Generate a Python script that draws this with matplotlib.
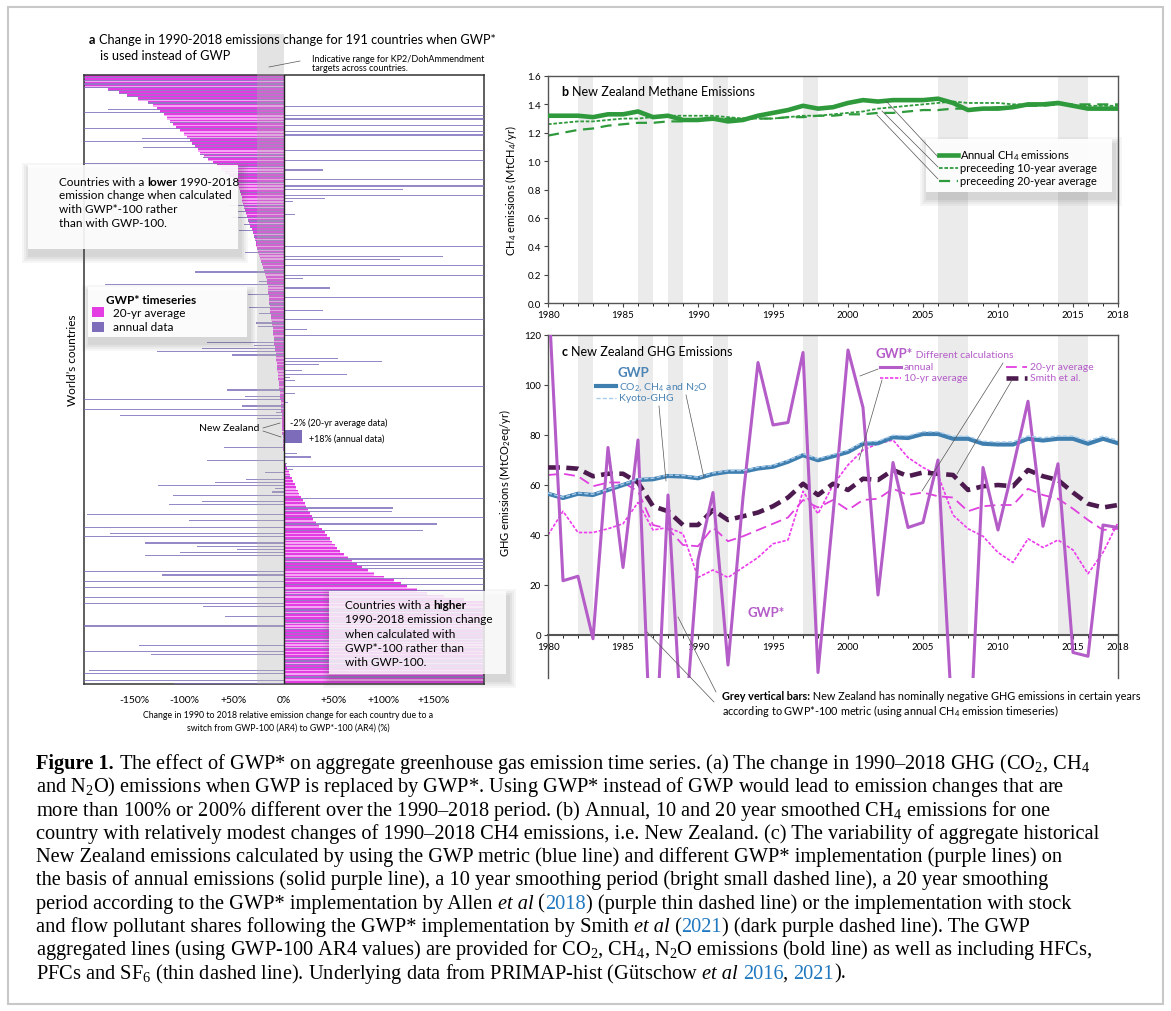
import numpy as np
import matplotlib
matplotlib.use("Agg")
import matplotlib.pyplot as plt
from matplotlib import transforms as mtransforms
from matplotlib.patches import Rectangle
from matplotlib.lines import Line2D

# ---- data ----
years = list(range(1980, 2019))

ch4_annual = [1.32, 1.32, 1.32, 1.31, 1.33, 1.33, 1.35, 1.31, 1.32, 1.29,
              1.29, 1.30, 1.28, 1.29, 1.32, 1.34, 1.36, 1.39, 1.37, 1.38,
              1.41, 1.43, 1.42, 1.43, 1.43, 1.43, 1.44, 1.41, 1.36, 1.37,
              1.37, 1.38, 1.40, 1.40, 1.41, 1.39, 1.37, 1.37, 1.37]
ch4_10yr = [1.26, 1.27, 1.28, 1.28, 1.29, 1.30, 1.30, 1.31, 1.32, 1.32,
            1.32, 1.32, 1.31, 1.30, 1.30, 1.30, 1.31, 1.32, 1.32, 1.33,
            1.34, 1.35, 1.37, 1.38, 1.39, 1.40, 1.41, 1.42, 1.41, 1.41,
            1.41, 1.40, 1.40, 1.40, 1.40, 1.39, 1.39, 1.39, 1.39]
ch4_20yr = [1.18, 1.20, 1.22, 1.23, 1.25, 1.26, 1.27, 1.27, 1.28, 1.28,
            1.29, 1.29, 1.30, 1.30, 1.30, 1.30, 1.31, 1.31, 1.32, 1.32,
            1.33, 1.33, 1.34, 1.34, 1.35, 1.36, 1.36, 1.37, 1.37, 1.37,
            1.38, 1.38, 1.39, 1.39, 1.40, 1.40, 1.40, 1.40, 1.40]

gwp_main = [56.5, 54.8, 56.5, 56.0, 58.0, 60.0, 62.0, 62.3, 63.6, 63.4,
            62.7, 64.4, 65.3, 65.3, 66.6, 67.3, 69.3, 71.9, 69.9, 71.5,
            73.2, 76.5, 76.7, 79.1, 78.8, 80.4, 80.4, 78.5, 78.5, 76.5,
            76.2, 76.2, 78.5, 77.8, 78.5, 78.5, 76.5, 78.5, 76.7]
gwp_kyoto = [56.8, 55.1, 56.8, 56.3, 58.3, 60.3, 62.4, 62.7, 64.0, 63.8,
             63.1, 64.8, 65.7, 65.8, 67.1, 67.8, 69.9, 72.5, 70.5, 72.2,
             73.9, 77.2, 77.5, 79.9, 79.7, 81.3, 81.3, 79.5, 79.5, 77.5,
             77.2, 77.3, 79.6, 78.9, 79.6, 79.6, 77.6, 79.6, 77.9]
gwpstar_annual = [140, 21.7, 23.5, -1.5, 75, 27, 78, -70, 56, -48,
                  30, 57, -12, 55, 109, 84, 85, 113, -15, 48,
                  114, 91, 16, 69, 43, 45, 70, -40, -60, 67,
                  42, 67, 93.5, 43.5, 68.5, -7, -8.5, 44, 43]
gwpstar_10yr = [40, 49.5, 41, 41, 42.5, 44.5, 53, 42, 43, 40.5,
                23, 26, 23, 27, 31, 36.5, 38, 57.5, 48.5, 60,
                68, 74, 76.5, 78, 71, 67, 64, 48, 42.5, 39.5,
                33, 29, 38.5, 35, 38, 34, 24.5, 33, 45]
gwpstar_20yr = [64, 64.5, 63.5, 59.5, 61, 61, 57.5, 44, 42.5, 36,
                35.5, 43, 37.5, 39.5, 42, 44.5, 47, 54, 51, 54,
                50, 54, 54.5, 58.5, 56, 57, 55.5, 55, 49.5, 51.5,
                52, 52, 58.5, 56, 54.5, 50.5, 46, 42, 42.5]
gwpstar_smith = [67, 67, 66.5, 63.5, 64.5, 64.5, 61, 51.5, 49.5, 44,
                 44, 50, 46, 47.5, 49, 51.5, 55, 60.5, 56, 60.5,
                 58, 62.5, 62, 66, 63.5, 65, 64.5, 64, 58, 59.5,
                 60, 59.5, 66, 63.5, 62, 57, 52.5, 51, 52]
negative_years = [(1982, 1983), (1986, 1987), (1988, 1989), (1991, 1992),
                  (1997, 1998), (2006, 2008), (2014, 2016)]

# 191 countries, sorted by the 20-yr average change (%)
country_avg20 = [
    -200, -200, -200, -200, -176, -165, -157, -146, -136, -131,
    -127, -124, -120, -117, -114, -111, -108, -104, -100, -97,
    -94, -92, -89, -86, -84, -80, -76, -71, -67, -63,
    -59, -55, -51, -49, -47, -45, -44, -43, -42, -42,
    -41, -40, -39, -38, -37, -36, -35, -34, -32, -31,
    -30, -29, -28, -28, -27, -26, -25, -24, -23, -22,
    -21, -20, -19, -18, -17, -17, -16, -16, -16, -15,
    -15, -15, -14, -14, -14, -13, -13, -12, -12, -11,
    -11, -11, -10, -10, -10, -9, -9, -8, -8, -8,
    -7, -7, -7, -6, -6, -6, -5, -5, -5, -4,
    -4, -4, -3, -3, -3, -3, -2, -2, -2, -2,
    -2, -2, -2, -1, -1, -1, -1, -1, -0.5, -0.5,
    0.5, 1, 2, 3, 5, 6, 8, 9, 11, 12,
    14, 15, 17, 19, 21, 22, 24, 26, 28, 29,
    32, 35, 38, 41, 43, 46, 48, 51, 53, 56,
    60, 64, 68, 73, 78, 84, 90, 100, 110, 117,
    123, 133, 143, 160, 180, 200, 200, 200, 200, 200,
    200, 200, 200, 200, 200, 200, 200, 200, 200, 200,
    200, 200, 200, 200, 200, 200, 200, 200, 200, 200,
    200]
country_annual = [
    -200, -200, -200, -200, -176, -165, -157, -146, -136, 200,
    -176, -200, 200, 200, -114, 200, -200, 200, 200, -142,
    -200, -92, -141, 200, -84, -81, 200, -200, -64, 39,
    -59, -55, 200, -49, 200, 119, -44, 200, 41, 9,
    -55, -40, -47, 11, -52, -36, -40, -34, -45, -31,
    -30, -29, -28, 200, -27, -39, 159, 116, -23, 200,
    -21, -89, 200, 19, -25, -179, 46, -16, -36, 200,
    -15, -15, -35, 39, -25, -13, 200, -28, -26, 23,
    -11, 200, -10, -77, -30, -82, -127, -52, 54, 98,
    35, -7, 18, 63, 6, 11, -5, 200, -57, 11,
    -39, -200, 4, -42, -200, -8, -164, -27, -2, -2,
    -2, 18, -2, -1, -1, -1, -60, -1, 13, 27,
    -77, 3, 200, 9, -19, 6, -38, -69, -126, -9,
    -12, -111, 200, -82, -115, 109, 108, -197, 200, -95,
    153, -200, 139, -174, -200, 46, -139, -87, -47, -104,
    -139, 200, 200, 200, 200, -200, -122, 200, -200, 200,
    -200, 200, 143, -200, 180, -200, -81, 200, 200, -59,
    200, 200, -200, 200, 200, 200, 200, 200, -145, 200,
    -200, -133, 200, 200, 200, 200, -195, -200, 200, -200,
    -110]
nz_index = 111
a_ticks = [-150, -100, -50, 0, 50, 100, 150]
a_ticklabels = ['-150%', '-100%', '+50%', '0%', '+50%', '+100%', '+150%']

# ---- figure setup ----
W, H = 1171, 1012
plt.rcParams['font.family'] = ['Lato', 'DejaVu Sans']
plt.rcParams['mathtext.fontset'] = 'custom'
plt.rcParams['mathtext.rm'] = 'Liberation Serif'
plt.rcParams['mathtext.it'] = 'Liberation Serif:italic'
plt.rcParams['mathtext.sf'] = 'Lato'

fig = plt.figure(figsize=(W / 100, H / 100), dpi=100)
T = mtransforms.Affine2D().scale(1 / W, -1 / H).translate(0, 1) + fig.transFigure
renderer = fig.canvas.get_renderer()

MAG = '#E33CE3'
PINK = '#F4A6F4'
PUR = '#7C6CB9'
GRN = '#2E9A3C'
BLU = '#3F7FB0'
ORC = '#B45CC8'
DRK = '#4D1A4F'
GRY = '#555555'


def box(x0, y0, x1, y1):
    return [x0 / W, 1 - y1 / H, (x1 - x0) / W, (y1 - y0) / H]


def line(x0, y0, x1, y1, **kw):
    kw.setdefault('color', GRY)
    kw.setdefault('lw', 0.5)
    fig.add_artist(Line2D([x0, x1], [y0, y1], transform=T, **kw))


def txt(x, y, s, **kw):
    kw.setdefault('va', 'center')
    kw.setdefault('fontsize', 8.5)
    return fig.text(x, y, s, transform=T, **kw)


def seg_line(x, y, segs, **base):
    # draw a line of text made of differently styled pieces
    for s, kw in segs:
        p = dict(base)
        p.update(kw)
        fig.text(x, y, s, transform=T, va='baseline', ha='left', **p)
        a = fig.text(0, 0, s + '|', **p)
        b = fig.text(0, 0, '|', **p)
        x += a.get_window_extent(renderer).width - b.get_window_extent(renderer).width
        a.remove()
        b.remove()


def shadow_box(x0, y0, x1, y1, alpha=0.9):
    for i, al in enumerate([0.05, 0.06, 0.07, 0.08]):
        d = 8 - 2 * i
        fig.add_artist(Rectangle((x0 - d + 2, y0 - d + 6), x1 - x0 + 2 * d, y1 - y0 + 2 * d,
                                 transform=T, color='#555555', alpha=al, lw=0, zorder=1.5))
    fig.add_artist(Rectangle((x0, y0), x1 - x0, y1 - y0, transform=T,
                             facecolor='white', alpha=alpha, lw=0, zorder=1.6))


# outer frame
fig.add_artist(Rectangle((8, 8), 1155, 997, transform=T, fill=False,
                         edgecolor='#c8c8c8', lw=1.5))

# ---------------- panel a ----------------
axa = fig.add_axes(box(84, 76, 484, 685))
rows = np.arange(len(country_avg20))
keep = rows != nz_index
avg = np.clip(np.array(country_avg20, float), -205, 205)
ann = np.clip(np.array(country_annual, float), -205, 205)
axa.barh(rows[keep] + 0.5, avg[keep], height=1.0, color=PINK, lw=0, zorder=1)
axa.barh(rows[keep] + 0.3, avg[keep], height=0.5, color=MAG, lw=0, zorder=2)
axa.barh(rows[keep] + 0.8, ann[keep], height=0.36, color=PUR, alpha=0.8, lw=0, zorder=3)
axa.barh(109.25, country_avg20[nz_index], height=4.7, color=MAG, lw=0, zorder=4)
axa.barh(113.35, country_annual[nz_index], height=4.1, color=PUR, lw=0, zorder=4)
axa.add_patch(Rectangle((-27, -12.9), 27, 191 + 12.9, facecolor='#b0b0b0', alpha=0.35,
                        lw=0, zorder=5, clip_on=False))
axa.axvline(0, color='#222222', lw=1, zorder=6)
axa.set_xlim(-200, 200)
axa.set_ylim(191, 0)
axa.set_yticks([])
axa.set_xticks(a_ticks)
axa.set_xticklabels(a_ticklabels, fontsize=7.5)
axa.tick_params(axis='x', length=0, pad=8)
for sp in axa.spines.values():
    sp.set_color('#333333')
    sp.set_linewidth(1.1)

seg_line(89, 44, [('a ', dict(fontweight='bold')),
                  ('Change in 1990-2018 emissions change for 191 countries when GWP*', {})],
         fontsize=9.2)
txt(100, 56.5, 'is used instead of GWP', fontsize=9.2)
txt(312, 59.5, 'Indicative range for KP2/DohAmmendment', fontsize=6.5)
txt(312, 68.5, 'targets across countries.', fontsize=6.5)
line(269, 68, 300, 62)

shadow_box(28, 166, 238, 250)
seg_line(59, 185.5, [('Countries with a ', {}), ('lower', dict(fontweight='bold')),
                     (' 1990-2018', {})], fontsize=8.5, zorder=3)
for i, s in enumerate(['emission change when calculated', 'with GWP*-100 rather',
                       'than with GWP-100.']):
    txt(59, 196 + 14 * i, s, fontsize=8.5, zorder=3)

shadow_box(88, 288, 247, 338, alpha=0.93)
txt(106, 300.5, 'GWP* timeseries', fontsize=8.5, fontweight='bold', zorder=3)
fig.add_artist(Rectangle((92, 308), 12, 10, transform=T, color=MAG, lw=0, zorder=3))
fig.add_artist(Rectangle((92, 323), 12, 10, transform=T, color=PUR, lw=0, zorder=3))
txt(113, 313.5, '20-yr average', fontsize=8.5, zorder=3)
txt(113, 328, 'annual data', fontsize=8.5, zorder=3)

txt(73, 360, 'World’s countries', fontsize=8.5, rotation=90, ha='center')

txt(259, 429, 'New Zealand', fontsize=7.5, ha='right')
line(263, 429, 280, 424)
line(263, 432, 281, 438)
txt(290, 423.5, '-2% (20-yr average data)', fontsize=6.5)
txt(309, 439, '+18% (annual data)', fontsize=6.5)

shadow_box(329, 592, 506, 675, alpha=0.82)
seg_line(345, 609, [('Countries with a ', {}), ('higher', dict(fontweight='bold'))],
         fontsize=8.5, zorder=3)
for i, s in enumerate(['1990-2018 emission change', 'when calculated with',
                       'GWP*-100 rather than', 'with GWP-100.']):
    txt(345, 620 + 14.3 * i, s, fontsize=8.5, zorder=3)

txt(288, 716, 'Change in 1990 to 2018 relative emission change for each country due to a',
    fontsize=6.3, ha='center')
txt(288, 728, 'switch from GWP-100 (AR4) to GWP*-100 (AR4) (%)', fontsize=6.3, ha='center')

# ---------------- panel b ----------------
axb = fig.add_axes(box(548, 77, 1118, 304))
for y0, y1 in negative_years:
    axb.axvspan(y0, y1, color='#EBEBEB', lw=0, zorder=0)
axb.plot(years, ch4_annual, color=GRN, lw=3.3, solid_capstyle='butt', zorder=3)
axb.plot(years, ch4_10yr, color=GRN, lw=1.3, dashes=(2, 1), zorder=2)
axb.plot(years, ch4_20yr, color=GRN, lw=1.6, dashes=(5, 3), zorder=2)
axb.set_xlim(1980, 2018)
axb.set_ylim(0, 1.6)
axb.set_xticks([1980, 1985, 1990, 1995, 2000, 2005, 2010, 2015, 2018])
axb.set_xticks(years, minor=True)
axb.set_yticks(np.arange(0, 1.61, 0.2))
axb.set_yticklabels(['%.1f' % v for v in np.arange(0, 1.61, 0.2)])
axb.tick_params(labelsize=7, length=3, width=0.8, color='#444444', pad=2)
axb.tick_params(which='minor', length=2, width=0.6)
axb.set_ylabel(r'CH$_{\mathsf{4}}$ emissions (MtCH$_{\mathsf{4}}$/yr)', fontsize=8, labelpad=6)
for sp in axb.spines.values():
    sp.set_color('#555555')
    sp.set_linewidth(1)

seg_line(562, 96, [('b ', dict(fontweight='bold')), ('New Zealand Methane Emissions', {})],
         fontsize=9)
shadow_box(926, 140, 1112, 193, alpha=0.95)
fig.add_artist(Line2D([939, 958], [156, 156], transform=T, color=GRN, lw=3.3, zorder=3))
fig.add_artist(Line2D([939, 958], [169, 169], transform=T, color=GRN, lw=1.3, dashes=(2, 1), zorder=3))
fig.add_artist(Line2D([939, 958], [181.5, 181.5], transform=T, color=GRN, lw=1.6, dashes=(5, 3), zorder=3))
txt(960, 156, r'Annual CH$_{\mathsf{4}}$ emissions', fontsize=8, zorder=3)
txt(960, 169, 'preceeding 10-year average', fontsize=8, zorder=3)
txt(960, 181.5, 'preceeding 20-year average', fontsize=8, zorder=3)
line(938, 158, 886, 102)
line(938, 168, 882, 112)
line(938, 180, 877, 116)

# ---------------- panel c ----------------
axc = fig.add_axes(box(548, 336, 1118, 678.5))
for y0, y1 in negative_years:
    axc.add_patch(Rectangle((y0, 0), y1 - y0, 120, color='#EBEBEB', lw=0, zorder=0))
axc.plot(years, gwp_main, color=BLU, lw=3, zorder=3)
axc.plot(years, gwp_kyoto, color='#A9CCEC', lw=1, dashes=(3, 1.5), zorder=4)
axc.plot(years, gwpstar_10yr, color='#EE3BEE', lw=1.2, dashes=(2, 1), zorder=2)
axc.plot(years, gwpstar_20yr, color='#E040E0', lw=1.3, dashes=(6, 3), zorder=2)
axc.plot(years, gwpstar_smith, color=DRK, lw=3.3, dashes=(2.6, 1.4), zorder=3)
axc.plot(years, gwpstar_annual, color=ORC, lw=2.2, zorder=3)
axc.set_xlim(1980, 2018)
axc.set_ylim(-17, 120)
axc.spines['bottom'].set_position(('data', 0))
axc.set_xticks([1980, 1985, 1990, 1995, 2000, 2005, 2010, 2015, 2018])
axc.set_xticks(years, minor=True)
axc.set_yticks(np.arange(0, 121, 20))
axc.tick_params(labelsize=7, length=3, width=0.8, color='#444444', pad=2)
axc.tick_params(which='minor', length=2, width=0.6)
axc.set_ylabel(r'GHG emissions (MtCO$_{\mathsf{2}}$eq/yr)', fontsize=8, labelpad=4)
axc.yaxis.set_label_coords(-0.062, 0.57)
for sp in axc.spines.values():
    sp.set_color('#555555')
    sp.set_linewidth(1)
axc.spines['bottom'].set_linewidth(1.5)

seg_line(562, 356, [('c ', dict(fontweight='bold')), ('New Zealand GHG Emissions', {})],
         fontsize=9)
txt(618, 373.5, 'GWP', fontsize=9.5, fontweight='bold', color='#4A84B5')
fig.add_artist(Line2D([596, 616], [387, 387], transform=T, color=BLU, lw=3))
fig.add_artist(Line2D([596, 616], [399, 399], transform=T, color='#A9CCEC', lw=1, dashes=(3, 1.5)))
txt(619, 387, r'CO$_{\mathsf{2}}$, CH$_{\mathsf{4}}$ and N$_{\mathsf{2}}$O', fontsize=7.5, color='#4A84B5')
txt(619, 399, 'Kyoto-GHG', fontsize=7.5, color='#4A84B5')
line(659, 407, 666, 482)
line(686, 396, 704, 479)

seg_line(876, 358.5, [('GWP*', dict(fontweight='bold', fontsize=9.5)),
                      (' Different calculations', dict(fontsize=7.5))], color=ORC)
fig.add_artist(Line2D([880, 901], [368, 368], transform=T, color=ORC, lw=2.2))
fig.add_artist(Line2D([880, 901], [379, 379], transform=T, color='#EE3BEE', lw=1.2, dashes=(2, 1)))
fig.add_artist(Line2D([1006, 1027], [368, 368], transform=T, color='#E040E0', lw=1.3, dashes=(6, 3)))
fig.add_artist(Line2D([1006, 1027], [379, 379], transform=T, color=DRK, lw=3.3, dashes=(2.6, 1.4)))
txt(904, 368, 'annual', fontsize=7.5, color=ORC)
txt(904, 379, '10-yr average', fontsize=7.5, color=ORC)
txt(1030, 368, '20-yr average', fontsize=7.5, color=ORC)
txt(1030, 379, 'Smith et al.', fontsize=7.5, color=ORC)
line(878, 370, 860, 377)
line(882, 381, 859, 461)
line(1003, 364, 922, 492)
line(1012, 381, 957, 475)

txt(747, 613, 'GWP*', fontsize=9.5, fontweight='bold', color=ORC)
seg_line(722, 700, [('Grey vertical bars:', dict(fontweight='bold')),
                    (' New Zealand has nominally negative GHG emissions in certain years', {})],
         fontsize=7.8)
txt(722, 711.5, r'according to GWP*-100 metric (using annual CH$_{\mathsf{4}}$ emission timeseries)',
    fontsize=7.8)
line(714, 703, 647, 633)
line(716, 693, 678, 618)

# ---------------- caption ----------------
N = {}
B = dict(fontweight='bold')
I = dict(fontstyle='italic')
L = dict(color='#2079C0')
caption = [
    [('Figure 1.', B), (' The effect of GWP* on aggregate greenhouse gas emission time series. '
                        '(a) The change in 1990–2018 GHG (CO$_2$, CH$_4$', N)],
    [('and N$_2$O) emissions when GWP is replaced by GWP*. Using GWP* instead of GWP would '
      'lead to emission changes that are', N)],
    [('more than 100% or 200% different over the 1990–2018 period. (b) Annual, 10 and 20 year '
      'smoothed CH$_4$ emissions for one', N)],
    [('country with relatively modest changes of 1990–2018 CH4 emissions, i.e. New Zealand. '
      '(c) The variability of aggregate historical', N)],
    [('New Zealand emissions calculated by using the GWP metric (blue line) and different GWP* '
      'implementation (purple lines) on', N)],
    [('the basis of annual emissions (solid purple line), a 10 year smoothing period (bright '
      'small dashed line), a 20 year smoothing', N)],
    [('period according to the GWP* implementation by Allen ', N), ('et al', I), (' (', N),
     ('2018', L), (') (purple thin dashed line) or the implementation with stock', N)],
    [('and flow pollutant shares following the GWP* implementation by Smith ', N), ('et al', I),
     (' (', N), ('2021', L), (') (dark purple dashed line). The GWP', N)],
    [('aggregated lines (using GWP-100 AR4 values) are provided for CO$_2$, CH$_4$, N$_2$O '
      'emissions (bold line) as well as including HFCs,', N)],
    [('PFCs and SF$_6$ (thin dashed line). Underlying data from PRIMAP-hist (Gütschow ', N),
     ('et al', I), (' ', N), ('2016', L), (', ', N), ('2021', L), (').', N)],
]
for i, segs in enumerate(caption):
    seg_line(36, 769 + 23.3 * i, segs, fontsize=14.7, family='Liberation Serif')

fig.savefig('out.png', dpi=100)
